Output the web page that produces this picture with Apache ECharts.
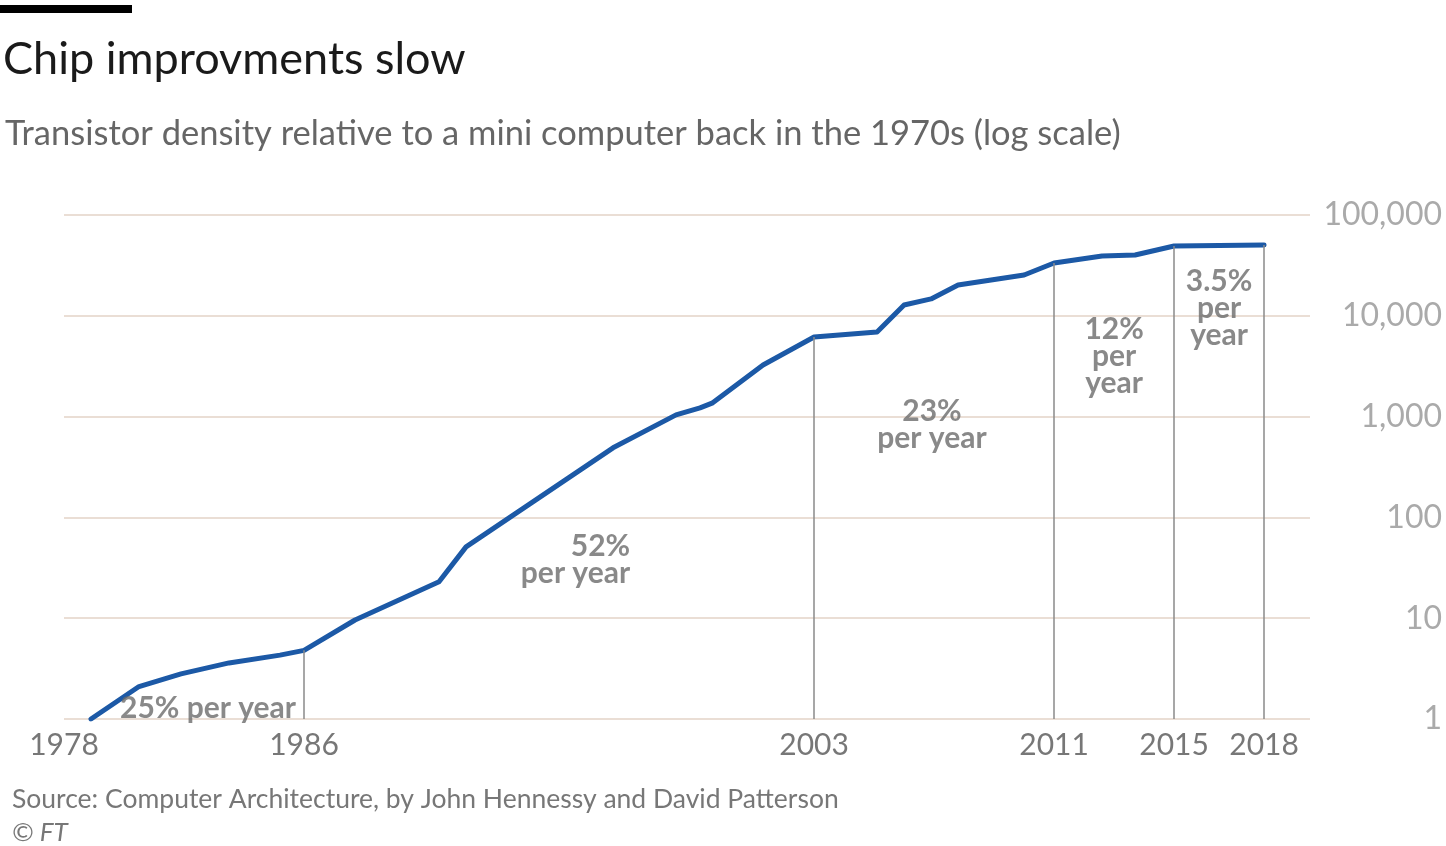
<!DOCTYPE html>
<html>
<head>
<meta charset="utf-8">
<script src="https://cdn.jsdelivr.net/npm/echarts@6/dist/echarts.min.js"></script>
<style>
html,body{margin:0;padding:0;background:#fff;}
#chart{width:1446px;height:846px;}
</style>
</head>
<body>
<div id="chart"></div>
<script>
// ---- data ----
var years = [1978.9, 1980.5, 1981.9, 1983.5, 1985.2, 1986, 1987.7, 1990.5, 1991.4, 1996.3, 1998.4, 1999.2, 1999.6, 2001.3, 2003, 2005.1, 2006.0, 2006.9, 2007.8, 2010.0, 2011, 2012.6, 2013.7, 2015, 2018];
var density = [1, 2.1, 2.8, 3.6, 4.3, 4.8, 9.6, 23, 51, 490, 1040, 1220, 1360, 3250, 6160, 6900, 12800, 14700, 20200, 25400, 33400, 39200, 40100, 49200, 50400];
var boundaryYears = [1986, 2003, 2011, 2015, 2018];
var xTickYears = [1978, 1986, 2003, 2011, 2015, 2018];
var yTickValues = [1, 10, 100, 1000, 10000, 100000];
var rateLabels = ['25% per year', '52%\nper year', '23%\nper year', '12%\nper\nyear', '3.5%\nper\nyear'];

var FONT = 'Lato, "Open Sans", sans-serif';

var lineData = years.map(function (y, i) { return [y, density[i]]; });
function valueAt(y) { return density[years.indexOf(y)]; }

var guideData = boundaryYears.map(function (y) {
  return [{ coord: [y, 1] }, { coord: [y, valueAt(y)] }];
});

// text anchors for the rate annotations (layout, in axis units)
var noteAnchors = [
  { coord: [1982.8, 1.29], align: 'center' },
  { coord: [1996.87, 37.8], align: 'right' },
  { coord: [2006.93, 826], align: 'center' },
  { coord: [2013.0, 3990], align: 'center' },
  { coord: [2016.5, 11950], align: 'center' }
];
var noteData = rateLabels.map(function (t, i) {
  return {
    name: t,
    value: noteAnchors[i].coord,
    label: { align: noteAnchors[i].align }
  };
});

var chart = echarts.init(document.getElementById('chart'), null, { renderer: 'canvas' });
chart.setOption({
  animation: false,
  backgroundColor: '#ffffff',
  textStyle: { fontFamily: FONT },
  title: [
    {
      text: 'Chip improvments slow', left: 3, top: 37, padding: 0,
      textStyle: { fontFamily: FONT, fontSize: 45, fontWeight: 'normal', color: '#1a1a1a' }
    },
    {
      text: 'Transistor density relative to a mini computer back in the 1970s (log scale)',
      left: 5, top: 116, padding: 0,
      textStyle: { fontFamily: FONT, fontSize: 34.5, fontWeight: 'normal', color: '#666666' }
    },
    {
      text: 'Source: Computer Architecture, by John Hennessy and David Patterson',
      left: 12, top: 786, padding: 0,
      textStyle: { fontFamily: FONT, fontSize: 26.5, fontWeight: 'normal', color: '#777777' }
    },
    {
      text: '© FT', left: 12, top: 820, padding: 0,
      textStyle: { fontFamily: FONT, fontSize: 26, fontWeight: 'normal', fontStyle: 'italic', color: '#777777' }
    }
  ],
  graphic: [
    { type: 'rect', left: 0, top: 5, shape: { width: 132, height: 8 }, style: { fill: '#000' } }
  ],
  grid: { left: 64, right: 136, top: 215, bottom: 127 },
  xAxis: {
    type: 'value', min: 1978, max: 2019.53,
    axisLine: { show: false }, axisTick: { show: false }, splitLine: { show: false },
    axisLabel: {
      customValues: xTickYears,
      fontFamily: FONT, fontSize: 30, color: '#777777', margin: 11,
      formatter: function (v) { return String(v); }
    }
  },
  yAxis: {
    type: 'log', logBase: 10, min: 1, max: 100000, position: 'right',
    axisLine: { show: false }, axisTick: { show: false },
    splitLine: { show: true, lineStyle: { color: '#eaded5', width: 2 } },
    axisLabel: {
      fontFamily: FONT, fontSize: 32, color: '#aaaaaa', align: 'right', margin: 132,
      formatter: function (v) { return Number(v).toLocaleString('en-US'); }
    }
  },
  series: [
    {
      type: 'line', name: 'guides', data: [], z: 1, silent: true,
      markLine: {
        silent: true, symbol: ['none', 'none'], animation: false,
        label: { show: false },
        lineStyle: { color: '#8a8a8a', width: 1.5, type: 'solid' },
        data: guideData
      }
    },
    {
      type: 'line', name: 'density', data: lineData, z: 3,
      showSymbol: false, symbol: 'none',
      lineStyle: { color: '#1c59a6', width: 5, join: 'round', cap: 'round' }
    },
    {
      type: 'scatter', name: 'notes', data: noteData, z: 4, symbolSize: 0, silent: true,
      label: {
        show: true, position: 'inside', formatter: '{b}',
        fontFamily: FONT, fontSize: 30, fontWeight: 'bold', color: '#6b6b6b', lineHeight: 27
      }
    }
  ]
});
</script>
</body>
</html>
